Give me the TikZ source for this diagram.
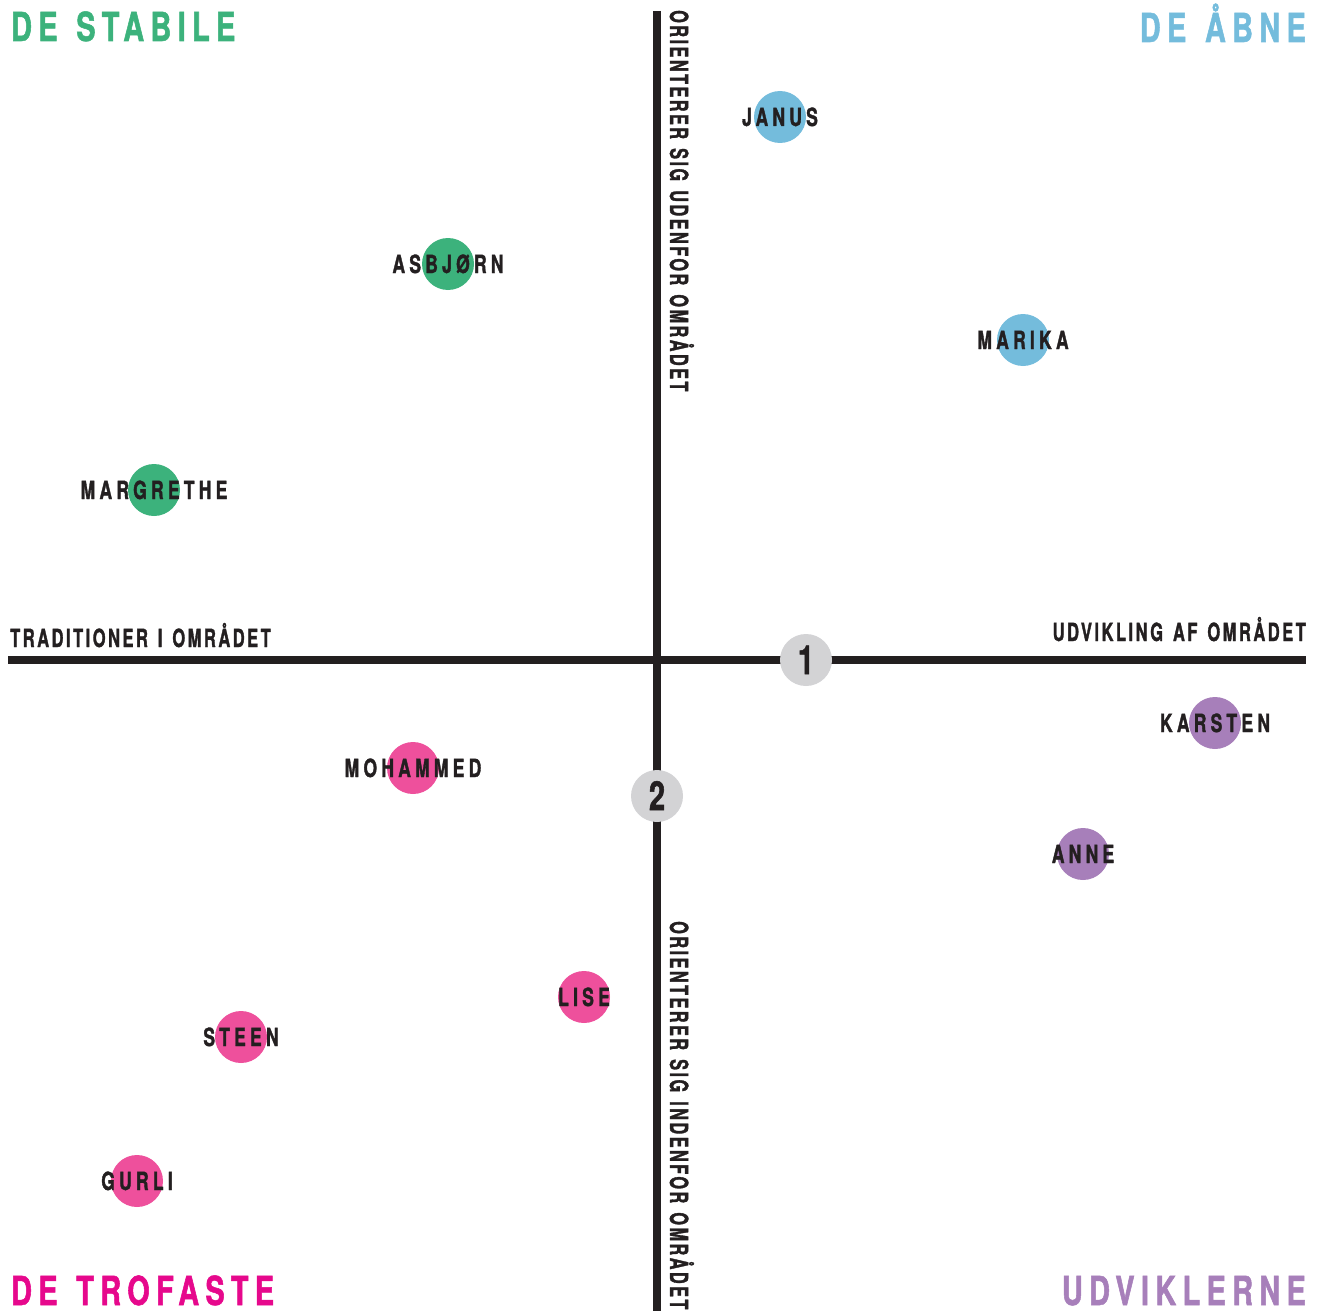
\documentclass[tikz,border=0pt]{standalone}
\usepackage{fontspec}
\setmainfont{TeX Gyre Heros}
\newfontfamily\titlefont[FakeStretch=0.72,LetterSpace=16,WordSpace=1.3,FakeBold=1.3]{TeX Gyre Heros}
\newfontfamily\labfont[FakeStretch=0.66,LetterSpace=10,WordSpace=1.4,FakeBold=1.3]{TeX Gyre Heros}
\newfontfamily\vlabfont[FakeStretch=0.652,LetterSpace=9.8,WordSpace=1.3,FakeBold=1.3]{TeX Gyre Heros}
\newfontfamily\namefont[FakeStretch=0.7,LetterSpace=17,FakeBold=1.4]{TeX Gyre Heros}
\newfontfamily\numfont[FakeStretch=0.72,FakeBold=1.3]{TeX Gyre Heros}
\definecolor{ink}{HTML}{231F20}
\definecolor{cgreen}{HTML}{3CB27C}
\definecolor{cblue}{HTML}{74BCDC}
\definecolor{cpink}{HTML}{EE509C}
\definecolor{tpink}{HTML}{E6088C}
\definecolor{cpurple}{HTML}{A77FBA}
\definecolor{cgray}{HTML}{D3D3D5}
\tikzset{
  pdot/.style={circle,minimum size=52pt,inner sep=0pt,fill=#1},
  pname/.style={inner sep=0pt,anchor=base,text=ink,font=\namefont\bfseries\fontsize{25}{25}\selectfont},
  ptitle/.style={inner sep=0pt,text=#1,font=\titlefont\bfseries\fontsize{40}{40}\selectfont},
  axlab/.style={inner sep=0pt,text=ink,font=\labfont\bfseries\fontsize{25}{25}\selectfont},
  vaxlab/.style={inner sep=0pt,text=ink,anchor=base west,rotate=-90,font=\vlabfont\bfseries\fontsize{25}{25}\selectfont},
  axisline/.style={draw=ink,line width=8pt},
  numdot/.style={circle,minimum size=52pt,inner sep=0pt,fill=cgray},
  numtext/.style={inner sep=0pt,anchor=base,text=ink,font=\numfont\bfseries\fontsize{40}{40}\selectfont}
}
\begin{document}
\begin{tikzpicture}[x=1pt,y=-1pt]
\useasboundingbox (0,0) rectangle (1320,1311);
% axes
\coordinate (hl) at (8,660);
\coordinate (hr) at (1306,660);
\coordinate (vt) at (657,11);
\coordinate (vb) at (657,1311);
\draw[axisline] (hl) -- (hr);
\draw[axisline] (vt) -- (vb);
% numbered circles
\node[numdot] (n1) at (806,660) {};
\node[numtext] (n1l) at (806,674) {1};
\node[numdot] (n2) at (657,796) {};
\node[numtext] (n2l) at (657,810) {2};
% axis labels
\node[axlab,anchor=base west] (trad) at (10,647) {TRADITIONER I OMRÅDET};
\node[axlab,anchor=base east] (udv) at (1306,641) {UDVIKLING AF OMRÅDET};
\node[vaxlab] (uden) at (670,10) {ORIENTERER SIG UDENFOR OMRÅDET};
\node[vaxlab] (inden) at (670,921) {ORIENTERER SIG INDENFOR OMRÅDET};
% titles
\node[ptitle=cgreen,anchor=base west] (stab) at (11,41) {DE STABILE};
\node[ptitle=cblue,anchor=base east] (aabne) at (1306,42) {DE ÅBNE};
\node[ptitle=tpink,anchor=base west] (trof) at (11,1305) {DE TROFASTE};
\node[ptitle=cpurple,anchor=base east] (udvk) at (1306,1305) {UDVIKLERNE};
% people
\node[pdot=cblue] (janus) at (780,117) {};
\node[pname] (janusl) at (780,126) {JANUS};
\node[pdot=cgreen] (asbj) at (448,264) {};
\node[pname] (asbjl) at (448,273) {ASBJØRN};
\node[pdot=cblue] (marika) at (1023,340) {};
\node[pname] (marikal) at (1023,349) {MARIKA};
\node[pdot=cgreen] (marg) at (154,490) {};
\node[pname] (margl) at (154,499) {MARGRETHE};
\node[pdot=cpurple] (karsten) at (1215,723) {};
\node[pname] (karstenl) at (1215,732) {KARSTEN};
\node[pdot=cpink] (moh) at (413,768) {};
\node[pname] (mohl) at (413,777) {MOHAMMED};
\node[pdot=cpurple] (anne) at (1083,854) {};
\node[pname] (annel) at (1083,863) {ANNE};
\node[pdot=cpink] (lise) at (584,997) {};
\node[pname] (lisel) at (584,1006) {LISE};
\node[pdot=cpink] (steen) at (241,1037) {};
\node[pname] (steenl) at (241,1046) {STEEN};
\node[pdot=cpink] (gurli) at (137,1181) {};
\node[pname] (gurlil) at (137,1190) {GURLI};
\end{tikzpicture}
\end{document}
